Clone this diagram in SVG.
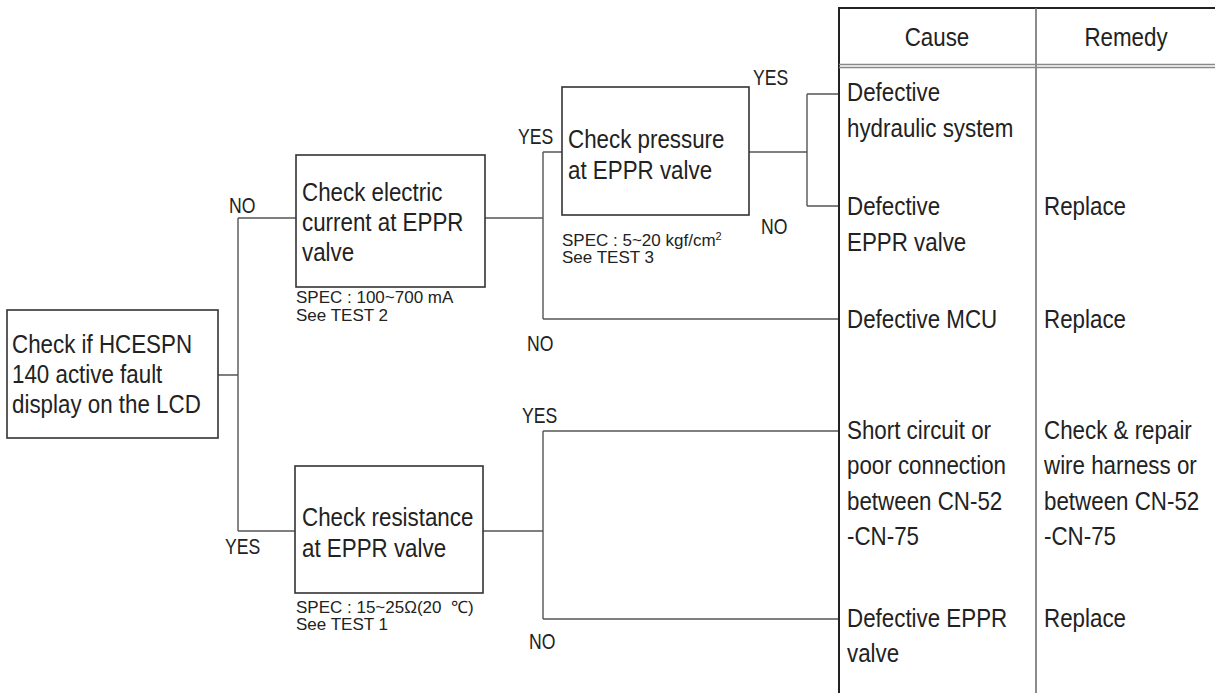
<svg xmlns="http://www.w3.org/2000/svg" width="1215" height="693" viewBox="0 0 1215 693">
<style>
text{font-family:"Liberation Sans",Arial,sans-serif;fill:#222}
.t{font-size:26px}
.s{font-size:17px}
.l{font-size:22px}
.box{fill:#fff;stroke:#333;stroke-width:1.6}
.c{fill:none;stroke:#555;stroke-width:1.4}
.tb{fill:none;stroke:#222;stroke-width:2}
.dv{fill:none;stroke:#666;stroke-width:1.5}
.hd{fill:none;stroke:#888;stroke-width:1.3}
</style>
<rect width="1215" height="693" fill="#fff"/>
<g id="connectors">
<path class="c" d="M218,375 H238 M238,218 V531 M238,218 H296 M238,531 H295"/>
<path class="c" d="M485,218 H543 M543,152 V319 M543,152 H562 M543,319 H839"/>
<path class="c" d="M749,152 H807 M807,94 V206 M807,94 H839 M807,206 H839"/>
<path class="c" d="M483,531 H543 M543,431 V619 M543,431 H839 M543,619 H839"/>
</g>
<g id="labels">
<text class="l" transform="matrix(0.8 0 0 1 229 213)">NO</text>
<text class="l" transform="matrix(0.8 0 0 1 225 554)">YES</text>
<text class="l" transform="matrix(0.8 0 0 1 518 144)">YES</text>
<text class="l" transform="matrix(0.8 0 0 1 753 85)">YES</text>
<text class="l" transform="matrix(0.8 0 0 1 761 234)">NO</text>
<text class="l" transform="matrix(0.8 0 0 1 527 351)">NO</text>
<text class="l" transform="matrix(0.8 0 0 1 522 423)">YES</text>
<text class="l" transform="matrix(0.8 0 0 1 529 649)">NO</text>
</g>
<g id="start">
<rect class="box" x="7" y="310" width="211" height="128"/>
<text class="t" transform="matrix(0.86 0 0 1 12 353)"><tspan x="0" y="0">Check if HCESPN</tspan><tspan x="0" y="30">140 active fault</tspan><tspan x="0" y="60">display on the LCD</tspan></text>
</g>
<g id="check-current">
<rect class="box" x="296" y="155" width="189" height="132"/>
<text class="t" transform="matrix(0.86 0 0 1 302 201)"><tspan x="0" y="0">Check electric</tspan><tspan x="0" y="30">current at EPPR</tspan><tspan x="0" y="60">valve</tspan></text>
<text class="s" x="296" y="303">SPEC : 100~700 mA</text>
<text class="s" x="296" y="321">See TEST 2</text>
</g>
<g id="check-pressure">
<rect class="box" x="562" y="87" width="187" height="128"/>
<text class="t" transform="matrix(0.86 0 0 1 568 148)"><tspan x="0" y="0">Check pressure</tspan><tspan x="0" y="31">at EPPR valve</tspan></text>
<text class="s" x="562" y="246">SPEC : 5~20 kgf/cm<tspan dy="-6" font-size="11">2</tspan></text>
<text class="s" x="562" y="263">See TEST 3</text>
</g>
<g id="check-resistance">
<rect class="box" x="295" y="466" width="188" height="127"/>
<text class="t" transform="matrix(0.86 0 0 1 302 526)"><tspan x="0" y="0">Check resistance</tspan><tspan x="0" y="31">at EPPR valve</tspan></text>
<text class="s" x="296" y="613">SPEC : 15~25Ω(20&#160;&#160;℃)</text>
<text class="s" x="296" y="630">See TEST 1</text>
</g>
<g id="table">
<path class="tb" d="M839,693 V8 H1215"/>
<path class="dv" d="M1036,8 V693"/>
<path class="hd" d="M839,64.5 H1215 M839,67.5 H1215"/>
<text class="t" text-anchor="middle" transform="matrix(0.86 0 0 1 937 46)">Cause</text>
<text class="t" text-anchor="middle" transform="matrix(0.86 0 0 1 1126 46)">Remedy</text>
</g>
<g id="cause-hydraulic">
<text class="t" transform="matrix(0.86 0 0 1 847 101)"><tspan x="0" y="0">Defective</tspan><tspan x="0" y="36">hydraulic system</tspan></text>
</g>
<g id="cause-eppr">
<text class="t" transform="matrix(0.86 0 0 1 847 215)"><tspan x="0" y="0">Defective</tspan><tspan x="0" y="36">EPPR valve</tspan></text>
<text class="t" transform="matrix(0.86 0 0 1 1044 215)">Replace</text>
</g>
<g id="cause-mcu">
<text class="t" transform="matrix(0.86 0 0 1 847 328)">Defective MCU</text>
<text class="t" transform="matrix(0.86 0 0 1 1044 328)">Replace</text>
</g>
<g id="cause-short">
<text class="t" transform="matrix(0.86 0 0 1 847 439)"><tspan x="0" y="0">Short circuit or</tspan><tspan x="0" y="35.5">poor connection</tspan><tspan x="0" y="71">between CN-52</tspan><tspan x="0" y="106.5">-CN-75</tspan></text>
<text class="t" transform="matrix(0.86 0 0 1 1044 439)"><tspan x="0" y="0">Check &amp; repair</tspan><tspan x="0" y="35.5">wire harness or</tspan><tspan x="0" y="71">between CN-52</tspan><tspan x="0" y="106.5">-CN-75</tspan></text>
</g>
<g id="cause-eppr2">
<text class="t" transform="matrix(0.86 0 0 1 847 627)"><tspan x="0" y="0">Defective EPPR</tspan><tspan x="0" y="35.5">valve</tspan></text>
<text class="t" transform="matrix(0.86 0 0 1 1044 627)">Replace</text>
</g>
</svg>
